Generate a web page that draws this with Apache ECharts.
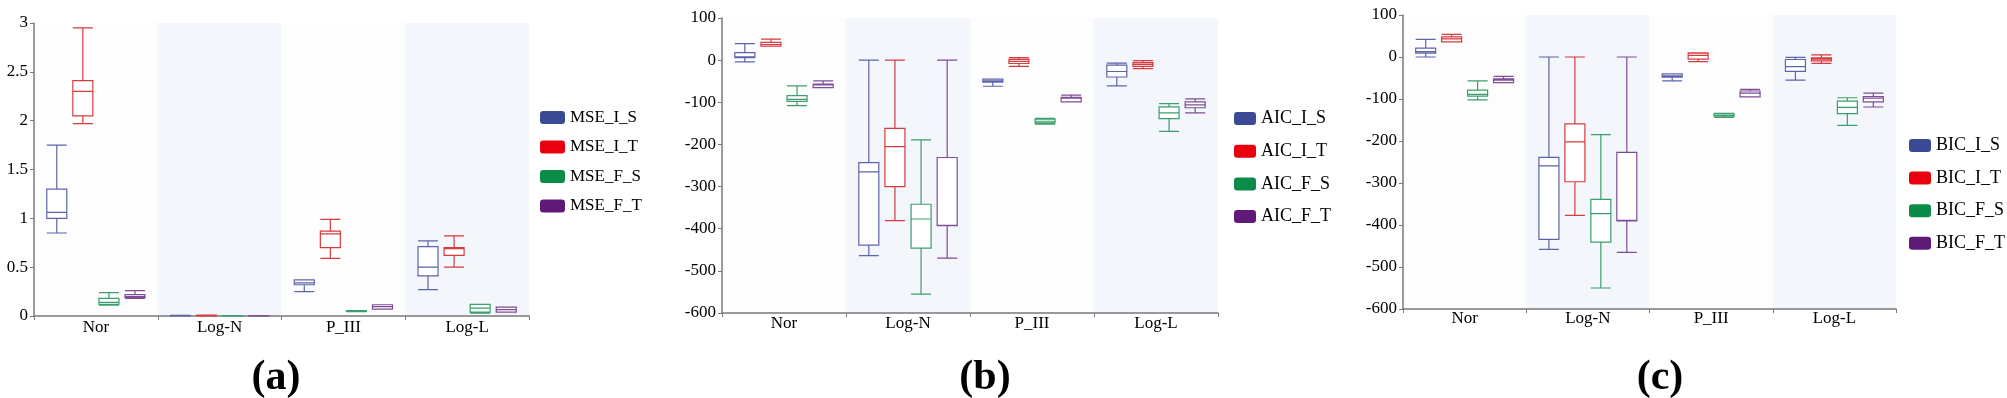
<!DOCTYPE html>
<html>
<head>
<meta charset="utf-8">
<script src="https://cdn.jsdelivr.net/npm/echarts@6/dist/echarts.min.js"></script>
<style>
  html, body { margin: 0; padding: 0; background: #fff; }
  #chart { width: 2007px; height: 398px; }
</style>
</head>
<body>
<div id="chart"></div>
<script>
// categories on every x axis
const categories = ['Nor', 'Log-N', 'P_III', 'Log-L'];

// each entry: [min, Q1, median, Q3, max] per category
const mseIS = [[0.85, 1.0, 1.06, 1.3, 1.75], [0.001, 0.002, 0.003, 0.005, 0.006], [0.25, 0.32, 0.34, 0.37, 0.37], [0.27, 0.41, 0.5, 0.71, 0.77]];
const mseIT = [[1.97, 2.05, 2.3, 2.41, 2.95], [0.002, 0.003, 0.005, 0.007, 0.008], [0.59, 0.7, 0.84, 0.87, 0.99], [0.5, 0.62, 0.69, 0.7, 0.82]];
const mseFS = [[0.11, 0.12, 0.14, 0.18, 0.24], [0.001, 0.002, 0.003, 0.004, 0.005], [0.045, 0.048, 0.05, 0.052, 0.055], [0.03, 0.04, 0.08, 0.12, 0.12]];
const mseFT = [[0.18, 0.19, 0.2, 0.22, 0.26], [0.001, 0.002, 0.003, 0.004, 0.005], [0.07, 0.07, 0.095, 0.115, 0.115], [0.04, 0.04, 0.065, 0.09, 0.09]];

const aicIS = [[-4, 6, 8, 18, 39], [-464, -439, -265, -243, 0], [-62, -52, -49, -45, -45], [-61, -40, -27, -12, -7]];
const aicIT = [[33, 33, 37, 42, 50], [-381, -300, -205, -162, 0], [-15, -8, -3, 2, 6], [-20, -15, -10, -6, -1]];
const aicFS = [[-108, -98, -93, -84, -61], [-555, -446, -377, -342, -189], [-152, -149, -145, -140, -138], [-169, -139, -125, -111, -103]];
const aicFT = [[-65, -65, -59, -57, -49], [-470, -393, -392, -231, 0], [-99, -99, -90, -88, -83], [-125, -113, -106, -99, -92]];

const bicIS = [[0, 9, 13, 21, 42], [-458, -434, -259, -239, 0], [-57, -48, -45, -40, -40], [-55, -34, -23, -6, -1]];
const bicIT = [[36, 36, 43, 48, 54], [-377, -297, -202, -159, 0], [-11, -5, 4, 9, 10], [-15, -9, -5, -2, 5]];
const bicFS = [[-102, -93, -89, -79, -57], [-550, -441, -373, -339, -185], [-144, -141, -139, -135, -134], [-163, -135, -120, -105, -97]];
const bicFT = [[-61, -61, -55, -52, -46], [-465, -390, -389, -227, 0], [-95, -95, -86, -81, -77], [-119, -107, -98, -94, -86]];

const mseNames = ['MSE_I_S', 'MSE_I_T', 'MSE_F_S', 'MSE_F_T'];
const aicNames = ['AIC_I_S', 'AIC_I_T', 'AIC_F_S', 'AIC_F_T'];
const bicNames = ['BIC_I_S', 'BIC_I_T', 'BIC_F_S', 'BIC_F_T'];

const yMin = [0, -600, -600];
const yMax = [3, 100, 100];
const yStep = [0.5, 100, 100];
const panelLabels = ['(a)', '(b)', '(c)'];

const legendColors = ['#3a4a94', '#e8000f', '#0a8b47', '#5f1a78'];
const lineColors = ['#5c64aa', '#d63b40', '#3c9e6c', '#7f4c97'];
const font = "'Liberation Serif', 'DejaVu Serif', serif";

const panels = [
    { names: mseNames, data: [mseIS, mseIT, mseFS, mseFT] },
    { names: aicNames, data: [aicIS, aicIT, aicFS, aicFT] },
    { names: bicNames, data: [bicIS, bicIT, bicFS, bicFT] }
];

// pixel layout of the three plots
const grids = [
    { left: 34, top: 23, width: 495, height: 293 },
    { left: 722, top: 18, width: 496, height: 295 },
    { left: 1403, top: 15, width: 493, height: 294 }
];
const legendPos = [
    { left: 535, top: 104, itemWidth: 25, itemHeight: 13, itemGap: 12.5, fontSize: 17 },
    { left: 1229, top: 104.5, itemWidth: 22, itemHeight: 13, itemGap: 14.7, fontSize: 18 },
    { left: 1904, top: 131.5, itemWidth: 22, itemHeight: 13, itemGap: 14.6, fontSize: 18 }
];
const titleX = [271, 980, 1655];
const xLabelMargin = [3, 2, 1];

const chart = echarts.init(document.getElementById('chart'));

const axisLineStyle = { color: '#7a7a7a', width: 1.5 };

const option = {
    backgroundColor: '#fff',
    animation: false,
    title: panelLabels.map((t, i) => ({
        text: t,
        left: titleX[i],
        top: 352,
        textAlign: 'center',
        textStyle: { fontFamily: font, fontSize: 42, fontWeight: 'bold', color: '#000' }
    })),
    grid: grids,
    xAxis: grids.map((g, i) => ({
        type: 'category',
        gridIndex: i,
        data: categories,
        axisLine: { show: true, onZero: false, lineStyle: axisLineStyle },
        axisTick: { show: true, length: 4, lineStyle: { color: '#7a7a7a' } },
        axisLabel: { fontFamily: font, fontSize: 17, color: '#000', margin: xLabelMargin[i] },
        splitLine: { show: false },
        splitArea: { show: true, areaStyle: { color: ['#fdfdfe', '#f3f6fa'] } }
    })),
    yAxis: grids.map((g, i) => ({
        type: 'value',
        gridIndex: i,
        min: yMin[i],
        max: yMax[i],
        interval: yStep[i],
        axisLine: { show: true, onZero: false, lineStyle: axisLineStyle },
        axisTick: { show: true, length: 4, lineStyle: { color: '#7a7a7a' } },
        axisLabel: { fontFamily: font, fontSize: 17, color: '#000', margin: 6 },
        splitLine: { show: false }
    })),
    legend: panels.map((p, i) => ({
        orient: 'vertical',
        left: legendPos[i].left,
        top: legendPos[i].top,
        itemWidth: legendPos[i].itemWidth,
        itemHeight: legendPos[i].itemHeight,
        itemGap: legendPos[i].itemGap,
        icon: 'roundRect',
        textStyle: { fontFamily: font, fontSize: legendPos[i].fontSize, color: '#000', lineHeight: legendPos[i].itemHeight },
        data: p.names.map((n, k) => ({
            name: n,
            itemStyle: { color: legendColors[k], borderColor: legendColors[k], borderWidth: 0 }
        }))
    })),
    series: []
};

panels.forEach((p, i) => {
    p.names.forEach((n, k) => {
        option.series.push({
            type: 'boxplot',
            name: n,
            xAxisIndex: i,
            yAxisIndex: i,
            data: p.data[k],
            boxWidth: [20, 20],
            itemStyle: { color: '#fff', borderColor: lineColors[k], borderWidth: 1.2 },
            emphasis: { disabled: true }
        });
    });
});

chart.setOption(option);
</script>
</body>
</html>
